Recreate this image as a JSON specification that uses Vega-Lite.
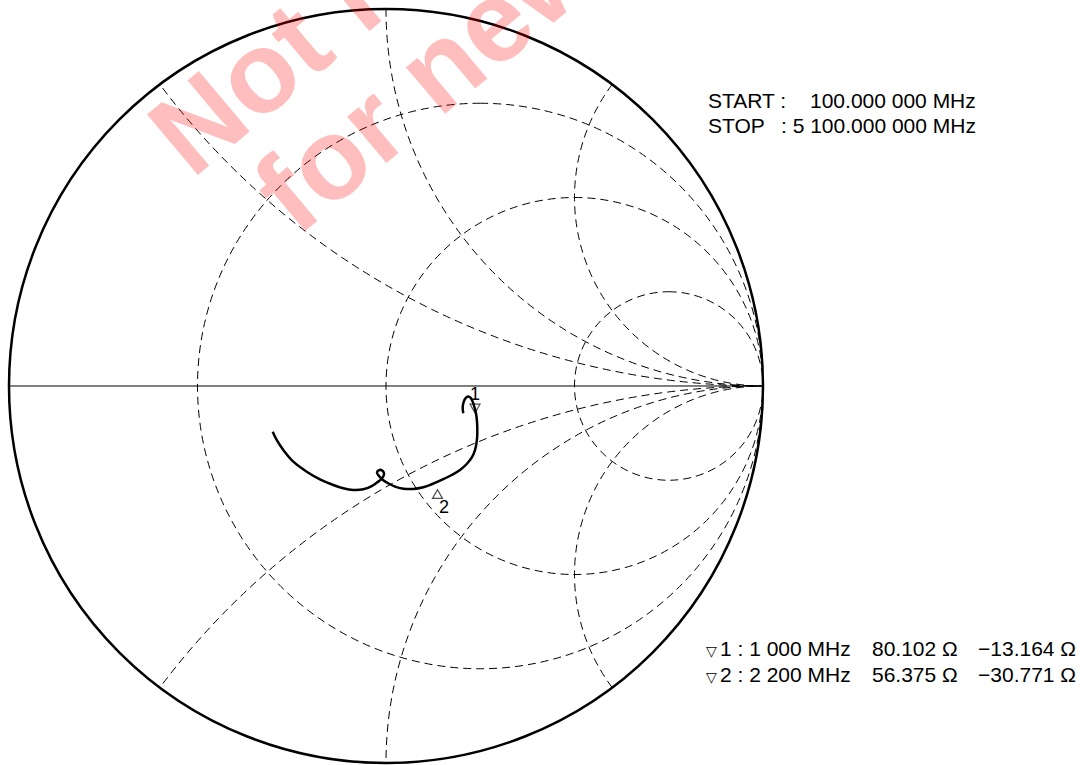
{
  "$schema": "https://vega.github.io/schema/vega-lite/v6.json",
  "width": 1090,
  "height": 765,
  "autosize": {"type": "none"},
  "padding": 0,
  "background": "white",
  "config": {"view": {"stroke": null}},
  "datasets": {
    "grid": [
      {"name": "r=1/3", "cx": 0.25, "cy": 0, "rad": 0.75},
      {"name": "r=1", "cx": 0.5, "cy": 0, "rad": 0.5},
      {"name": "r=3", "cx": 0.75, "cy": 0, "rad": 0.25},
      {"name": "x=0.5", "cx": 1, "cy": 2, "rad": 2},
      {"name": "x=1", "cx": 1, "cy": 1, "rad": 1},
      {"name": "x=2", "cx": 1, "cy": 0.5, "rad": 0.5},
      {"name": "x=-0.5", "cx": 1, "cy": -2, "rad": 2},
      {"name": "x=-1", "cx": 1, "cy": -1, "rad": 1},
      {"name": "x=-2", "cx": 1, "cy": -0.5, "rad": 0.5}
    ],
    "mask": [{"cx": 0, "cy": 0, "ro": 3, "ri": 1}],
    "bound": [{"cx": 0, "cy": 0, "rad": 1}],
    "realaxis": [{"a": -1, "b": 1, "y": 0}],
    "trace": [
      {"i": 1, "gr": 0.2050, "gi": -0.0724},
      {"i": 2, "gr": 0.2034, "gi": -0.0592},
      {"i": 3, "gr": 0.2050, "gi": -0.0459},
      {"i": 4, "gr": 0.2095, "gi": -0.0345},
      {"i": 5, "gr": 0.2156, "gi": -0.0284},
      {"i": 6, "gr": 0.2228, "gi": -0.0300},
      {"i": 7, "gr": 0.2289, "gi": -0.0390},
      {"i": 8, "gr": 0.2342, "gi": -0.0549},
      {"i": 9, "gr": 0.2387, "gi": -0.0724},
      {"i": 10, "gr": 0.2414, "gi": -0.0947},
      {"i": 11, "gr": 0.2422, "gi": -0.1255},
      {"i": 12, "gr": 0.2406, "gi": -0.1477},
      {"i": 13, "gr": 0.2361, "gi": -0.1698},
      {"i": 14, "gr": 0.2273, "gi": -0.1902},
      {"i": 15, "gr": 0.2141, "gi": -0.2069},
      {"i": 16, "gr": 0.1963, "gi": -0.2228},
      {"i": 17, "gr": 0.1743, "gi": -0.2361},
      {"i": 18, "gr": 0.1477, "gi": -0.2493},
      {"i": 19, "gr": 0.1212, "gi": -0.2607},
      {"i": 20, "gr": 0.0989, "gi": -0.2687},
      {"i": 21, "gr": 0.0724, "gi": -0.2732},
      {"i": 22, "gr": 0.0459, "gi": -0.2724},
      {"i": 23, "gr": 0.0239, "gi": -0.2671},
      {"i": 24, "gr": 0.0061, "gi": -0.2581},
      {"i": 25, "gr": -0.0080, "gi": -0.2493},
      {"i": 26, "gr": -0.0186, "gi": -0.2387},
      {"i": 27, "gr": -0.0239, "gi": -0.2294},
      {"i": 28, "gr": -0.0172, "gi": -0.2228},
      {"i": 29, "gr": -0.0080, "gi": -0.2255},
      {"i": 30, "gr": -0.0053, "gi": -0.2347},
      {"i": 31, "gr": -0.0119, "gi": -0.2467},
      {"i": 32, "gr": -0.0239, "gi": -0.2560},
      {"i": 33, "gr": -0.0379, "gi": -0.2653},
      {"i": 34, "gr": -0.0602, "gi": -0.2740},
      {"i": 35, "gr": -0.0867, "gi": -0.2759},
      {"i": 36, "gr": -0.1133, "gi": -0.2714},
      {"i": 37, "gr": -0.1398, "gi": -0.2626},
      {"i": 38, "gr": -0.1751, "gi": -0.2475},
      {"i": 39, "gr": -0.2103, "gi": -0.2273},
      {"i": 40, "gr": -0.2459, "gi": -0.2008},
      {"i": 41, "gr": -0.2724, "gi": -0.1698},
      {"i": 42, "gr": -0.2899, "gi": -0.1432},
      {"i": 43, "gr": -0.3005, "gi": -0.1212}
    ],
    "markers": [
      {"m": 1, "gr": 0.2361, "gi": -0.0597, "lx": 0.2361, "ly": -0.0239, "label": "1"},
      {"m": 2, "gr": 0.1366, "gi": -0.2865, "lx": 0.1538, "ly": -0.3236, "label": "2"}
    ],
    "notes": [
      {"text": "START :", "gx": 0.8541, "gy": 0.7546},
      {"text": "100.000 000 MHz", "gx": 1.1247, "gy": 0.7546},
      {"text": "STOP", "gx": 0.8541, "gy": 0.6870},
      {"text": ": 5 100.000 000 MHz", "gx": 1.0477, "gy": 0.6870},
      {"text": "1 : 1 000 MHz", "gx": 0.8859, "gy": -0.7003},
      {"text": "80.102 Ω", "gx": 1.2891, "gy": -0.7003},
      {"text": "−13.164 Ω", "gx": 1.5703, "gy": -0.7003},
      {"text": "2 : 2 200 MHz", "gx": 0.8859, "gy": -0.7692},
      {"text": "56.375 Ω", "gx": 1.2891, "gy": -0.7692},
      {"text": "−30.771 Ω", "gx": 1.5703, "gy": -0.7692}
    ],
    "glyphs": [
      {"text": "▽", "gx": 0.8488, "gy": -0.7003},
      {"text": "▽", "gx": 0.8488, "gy": -0.7692}
    ],
    "watermark": [
      {"text": "Not recommended", "gx": -0.5146, "gy": 0.5464},
      {"text": "for new design", "gx": -0.2361, "gy": 0.3926}
    ]
  },
  "layer": [
    {
      "data": {"name": "grid"},
      "mark": {"type": "arc", "filled": false, "stroke": "black", "strokeWidth": 1, "strokeDash": [8, 5], "theta": 0, "theta2": 6.283185307179586},
      "encoding": {
        "x": {"field": "cx", "type": "quantitative", "scale": {"domain": [-1.02387, 1.86737], "nice": false, "zero": false}, "axis": null},
        "y": {"field": "cy", "type": "quantitative", "scale": {"domain": [-1.00531, 1.02387], "nice": false, "zero": false}, "axis": null},
        "radius": {"field": "rad", "type": "quantitative", "stack": null, "scale": {"type": "linear", "domain": [0, 1], "range": [0, 377], "zero": true}}
      }
    },
    {
      "data": {"name": "mask"},
      "mark": {"type": "arc", "fill": "white", "stroke": null, "theta": 0, "theta2": 6.283185307179586},
      "encoding": {
        "x": {"field": "cx", "type": "quantitative", "scale": {"domain": [-1.02387, 1.86737], "nice": false, "zero": false}, "axis": null},
        "y": {"field": "cy", "type": "quantitative", "scale": {"domain": [-1.00531, 1.02387], "nice": false, "zero": false}, "axis": null},
        "radius": {"field": "ro", "type": "quantitative", "stack": null, "scale": {"type": "linear", "domain": [0, 1], "range": [0, 377], "zero": true}},
        "radius2": {"field": "ri"}
      }
    },
    {
      "data": {"name": "bound"},
      "mark": {"type": "arc", "filled": false, "stroke": "black", "strokeWidth": 2.5, "theta": 0, "theta2": 6.283185307179586},
      "encoding": {
        "x": {"field": "cx", "type": "quantitative", "scale": {"domain": [-1.02387, 1.86737], "nice": false, "zero": false}, "axis": null},
        "y": {"field": "cy", "type": "quantitative", "scale": {"domain": [-1.00531, 1.02387], "nice": false, "zero": false}, "axis": null},
        "radius": {"field": "rad", "type": "quantitative", "stack": null, "scale": {"type": "linear", "domain": [0, 1], "range": [0, 377], "zero": true}}
      }
    },
    {
      "data": {"name": "realaxis"},
      "mark": {"type": "rule", "stroke": "black", "strokeWidth": 1},
      "encoding": {
        "x": {"field": "a", "type": "quantitative", "scale": {"domain": [-1.02387, 1.86737], "nice": false, "zero": false}, "axis": null},
        "x2": {"field": "b"},
        "y": {"field": "y", "type": "quantitative", "scale": {"domain": [-1.00531, 1.02387], "nice": false, "zero": false}, "axis": null}
      }
    },
    {
      "data": {"name": "trace"},
      "mark": {"type": "line", "stroke": "black", "strokeWidth": 2.5, "interpolate": "catmull-rom"},
      "encoding": {
        "x": {"field": "gr", "type": "quantitative", "scale": {"domain": [-1.02387, 1.86737], "nice": false, "zero": false}, "axis": null},
        "y": {"field": "gi", "type": "quantitative", "scale": {"domain": [-1.00531, 1.02387], "nice": false, "zero": false}, "axis": null},
        "order": {"field": "i", "type": "quantitative"}
      }
    },
    {
      "data": {"name": "markers"},
      "transform": [{"filter": "datum.m == 1"}],
      "mark": {"type": "point", "shape": "triangle-down", "filled": false, "stroke": "black", "strokeWidth": 1.2, "size": 100},
      "encoding": {
        "x": {"field": "gr", "type": "quantitative", "scale": {"domain": [-1.02387, 1.86737], "nice": false, "zero": false}, "axis": null},
        "y": {"field": "gi", "type": "quantitative", "scale": {"domain": [-1.00531, 1.02387], "nice": false, "zero": false}, "axis": null}
      }
    },
    {
      "data": {"name": "markers"},
      "transform": [{"filter": "datum.m == 2"}],
      "mark": {"type": "point", "shape": "triangle-up", "filled": false, "stroke": "black", "strokeWidth": 1.2, "size": 100},
      "encoding": {
        "x": {"field": "gr", "type": "quantitative", "scale": {"domain": [-1.02387, 1.86737], "nice": false, "zero": false}, "axis": null},
        "y": {"field": "gi", "type": "quantitative", "scale": {"domain": [-1.00531, 1.02387], "nice": false, "zero": false}, "axis": null}
      }
    },
    {
      "data": {"name": "markers"},
      "mark": {"type": "text", "font": "Liberation Sans", "fontSize": 18, "align": "center", "baseline": "middle", "color": "black"},
      "encoding": {
        "x": {"field": "lx", "type": "quantitative", "scale": {"domain": [-1.02387, 1.86737], "nice": false, "zero": false}, "axis": null},
        "y": {"field": "ly", "type": "quantitative", "scale": {"domain": [-1.00531, 1.02387], "nice": false, "zero": false}, "axis": null},
        "text": {"field": "label"}
      }
    },
    {
      "data": {"name": "notes"},
      "mark": {"type": "text", "font": "Liberation Sans", "fontSize": 21, "align": "left", "baseline": "middle", "color": "black"},
      "encoding": {
        "x": {"field": "gx", "type": "quantitative", "scale": {"domain": [-1.02387, 1.86737], "nice": false, "zero": false}, "axis": null},
        "y": {"field": "gy", "type": "quantitative", "scale": {"domain": [-1.00531, 1.02387], "nice": false, "zero": false}, "axis": null},
        "text": {"field": "text"}
      }
    },
    {
      "data": {"name": "glyphs"},
      "mark": {"type": "text", "font": "DejaVu Sans", "fontSize": 14, "align": "left", "baseline": "middle", "color": "black", "dy": 2},
      "encoding": {
        "x": {"field": "gx", "type": "quantitative", "scale": {"domain": [-1.02387, 1.86737], "nice": false, "zero": false}, "axis": null},
        "y": {"field": "gy", "type": "quantitative", "scale": {"domain": [-1.00531, 1.02387], "nice": false, "zero": false}, "axis": null},
        "text": {"field": "text"}
      }
    },
    {
      "data": {"name": "watermark"},
      "mark": {"type": "text", "font": "Liberation Sans", "fontWeight": "bold", "fontSize": 115, "align": "left", "baseline": "alphabetic", "angle": 320, "color": "#ff0000", "opacity": 0.25},
      "encoding": {
        "x": {"field": "gx", "type": "quantitative", "scale": {"domain": [-1.02387, 1.86737], "nice": false, "zero": false}, "axis": null},
        "y": {"field": "gy", "type": "quantitative", "scale": {"domain": [-1.00531, 1.02387], "nice": false, "zero": false}, "axis": null},
        "text": {"field": "text"}
      }
    }
  ]
}
